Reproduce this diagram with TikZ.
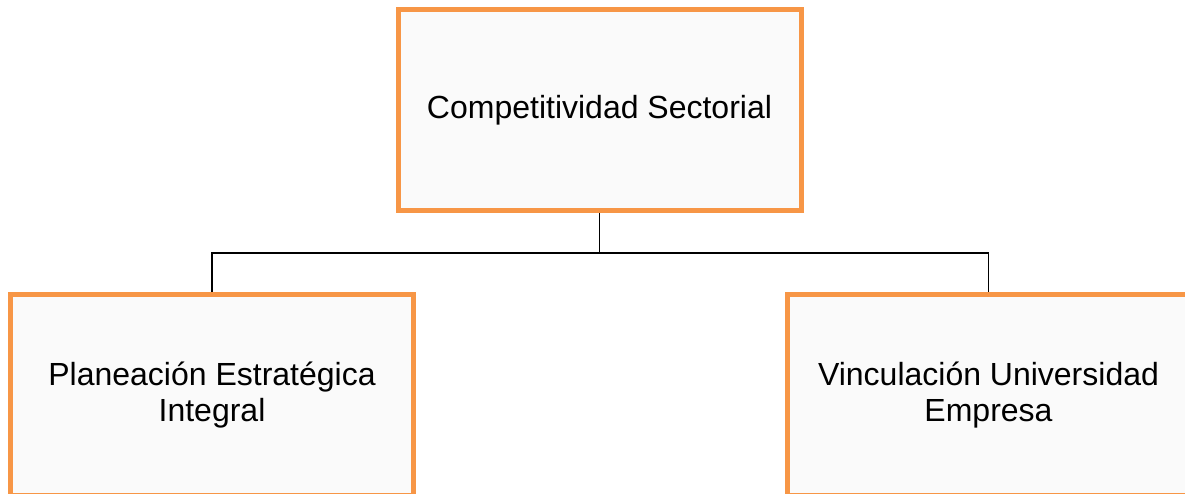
\documentclass[tikz,border=0pt]{standalone}
\usepackage{fontspec}
\setmainfont{Liberation Sans}
\definecolor{boxline}{RGB}{247, 150, 70}
\definecolor{boxfill}{RGB}{250, 250, 250}

\begin{document}
\begin{tikzpicture}[x=1pt, y=-1pt,
		areabox/.style={draw=boxline, fill=boxfill, line width=5pt, minimum width=403pt, minimum height=201pt, inner sep=0pt, align=center, font=\fontsize{32}{36}\selectfont},
		link/.style={draw=black, line width=1.5pt}]
			\useasboundingbox (0, 0) rectangle (1185, 494);
			\node[areabox] (comp) at (599.5, 110) {Competitividad Sectorial};
			\node[areabox] (plan) at (212, 395) {Planeación Estratégica\\Integral};
			\node[areabox] (vinc) at (988.5, 395) {Vinculación Universidad\\Empresa};
			\draw[link] (comp.south) -- ++(0, 40) coordinate (split);
			\draw[link] (split) -| (plan.north);
			\draw[link] (split) -| (vinc.north);
		\end{tikzpicture}
\end{document}
